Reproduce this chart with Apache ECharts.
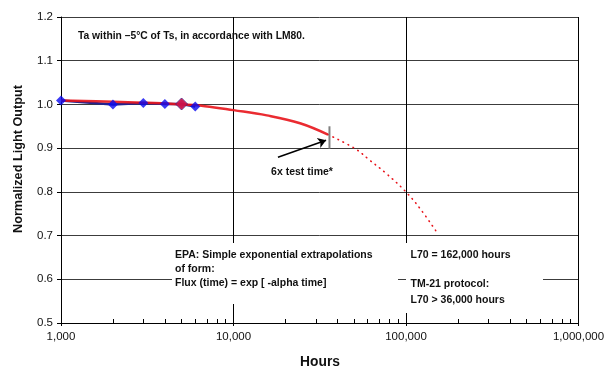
<!DOCTYPE html>
<html><head><meta charset="utf-8">
<script src="https://cdn.jsdelivr.net/npm/echarts@6/dist/echarts.min.js"></script>
<style>html,body{margin:0;padding:0;background:#fff}#c{width:612px;height:379px}</style>
</head><body><div id="c"></div>
<script>
// ---- data ----
const xTickValues = [1000, 10000, 100000, 1000000];
const xTickLabels = ['1,000', '10,000', '100,000', '1,000,000'];
const yTickLabels = ['0.5', '0.6', '0.7', '0.8', '0.9', '1.0', '1.1', '1.2'];
const testHours = [1000, 2000, 3000, 4000, 5000, 6000];
const testValues = [1.009, 1.000, 1.003, 1.001, 1.001, 0.995];
const highlightHours = [5000];
const highlightValues = [1.001];
const fitHours = [1000, 2000, 3000, 4500, 6840, 10000, 15600, 24300, 35300];
const fitValues = [1.009, 1.006, 1.004, 1.001, 0.996, 0.987, 0.975, 0.957, 0.931];
const extrapHours = [35300, 50600, 61800, 77300, 98700, 120500, 153000];
const extrapValues = [0.931, 0.899, 0.872, 0.841, 0.802, 0.762, 0.704];
const testTimeMarkHours = [36000, 36000];
const testTimeMarkValues = [0.95, 0.899];
const arrowHours = [18100, 34400];
const arrowValues = [0.879, 0.918];

const zip = (a, b) => a.map((v, i) => [v, b[i]]);
const FONT = '"Liberation Sans", Arial, sans-serif';
const chart = echarts.init(document.getElementById('c'), null, {renderer: 'canvas'});

const xLabel = v => { const i = xTickValues.indexOf(Math.round(v)); return i >= 0 ? xTickLabels[i] : ''; };
const yLabel = v => { const i = Math.round((v - 0.5) * 10); return yTickLabels[i] !== undefined ? yTickLabels[i] : ''; };

const txt = (t, x, y, extra) => ({
  type: 'text', z: 110,
  style: Object.assign({text: t, x: x, y: y, font: 'bold 10.5px ' + FONT, fill: '#111',
    textAlign: 'left', textVerticalAlign: 'middle'}, extra || {})
});

chart.setOption({
  animation: false,
  backgroundColor: '#fff',
  grid: {left: 61, right: 33.5, top: 17, bottom: 56, containLabel: false},
  xAxis: [{
    type: 'log', logBase: 10, min: 1000, max: 1000000,
    axisLine: {show: true, lineStyle: {color: '#000', width: 1}},
    axisTick: {show: true, length: 3, lineStyle: {color: '#000'}},
    axisLabel: {formatter: xLabel, color: '#111', fontFamily: FONT, fontSize: 11.5, margin: 8},
    splitLine: {show: true, lineStyle: {color: '#000', width: 1}},
    minorTick: {show: false}
  }, {
    type: 'log', logBase: 10, min: 1000, max: 1000000, position: 'bottom',
    axisLine: {show: false}, axisLabel: {show: false},
    axisTick: {show: false, inside: true},
    minorTick: {show: true, splitNumber: 9, length: 4, lineStyle: {color: '#000', width: 1}},
    splitLine: {show: false}
  }],
  yAxis: {
    type: 'value', min: 0.5, max: 1.2, interval: 0.1,
    axisLine: {show: true, lineStyle: {color: '#000', width: 1}},
    axisTick: {show: true, length: 4, lineStyle: {color: '#000'}},
    axisLabel: {formatter: yLabel, color: '#111', fontFamily: FONT, fontSize: 11.5, margin: 8},
    splitLine: {show: true, lineStyle: {color: '#3c3c3c', width: 1}}
  },
  graphic: [
    {type: 'rect', z: 100, shape: {x: 172, y: 243, width: 226, height: 61}, style: {fill: '#fff'}},
    {type: 'rect', z: 100, shape: {x: 406, y: 243, width: 137, height: 70}, style: {fill: '#fff'}},
    Object.assign(txt('Normalized Light Output', 0, 0, {font: 'bold 12.7px ' + FONT, textAlign: 'center'}),
      {x: 18, y: 159, rotation: Math.PI / 2}),
    txt('Hours', 320, 362, {font: 'bold 13.8px ' + FONT, textAlign: 'center'}),
    txt('Ta within \u20135\u00B0C of Ts, in accordance with LM80.', 78, 36, {font: 'bold 10.3px ' + FONT}),
    txt('6x test time*', 302, 172, {textAlign: 'center'}),
    txt('EPA: Simple exponential extrapolations', 175, 255.5),
    txt('of form:', 175, 269.5),
    txt('Flux (time) = exp [ -alpha time]', 175, 283.5),
    txt('L70 = 162,000 hours', 410.5, 255),
    txt('TM-21 protocol:', 410.5, 284),
    txt('L70 > 36,000 hours', 410.5, 300)
  ],
  series: [
    {type: 'line', data: zip(testHours, testValues), symbol: 'none', z: 2,
      lineStyle: {color: '#23238f', width: 2.5}},
    {type: 'line', data: zip(fitHours, fitValues), symbol: 'none', smooth: 0.4, z: 3,
      lineStyle: {color: '#e8141b', width: 2.5, opacity: 0.9}},
    {type: 'line', data: zip(extrapHours, extrapValues), symbol: 'none', smooth: 0.4, z: 3,
      lineStyle: {color: '#e8141b', width: 1.6, type: [0.6, 5], cap: 'round'}},
    {type: 'line', data: zip(testTimeMarkHours, testTimeMarkValues), symbol: 'none', z: 4,
      lineStyle: {color: '#808080', width: 2}},
    {type: 'lines', coordinateSystem: 'cartesian2d', z: 4, symbol: ['none', 'arrow'], symbolSize: 8,
      lineStyle: {color: '#000', width: 1.5, opacity: 1},
      data: [{coords: zip(arrowHours, arrowValues)}]},
    {type: 'scatter', data: zip(testHours, testValues), symbol: 'diamond', symbolSize: 10, z: 5,
      itemStyle: {color: '#0a0af0'}},
    {type: 'scatter', data: zip(highlightHours, highlightValues), symbol: 'diamond', symbolSize: 12, z: 6,
      itemStyle: {color: '#f0142a', borderColor: '#3a1a8a', borderWidth: 1}}
  ]
});
</script></body></html>
